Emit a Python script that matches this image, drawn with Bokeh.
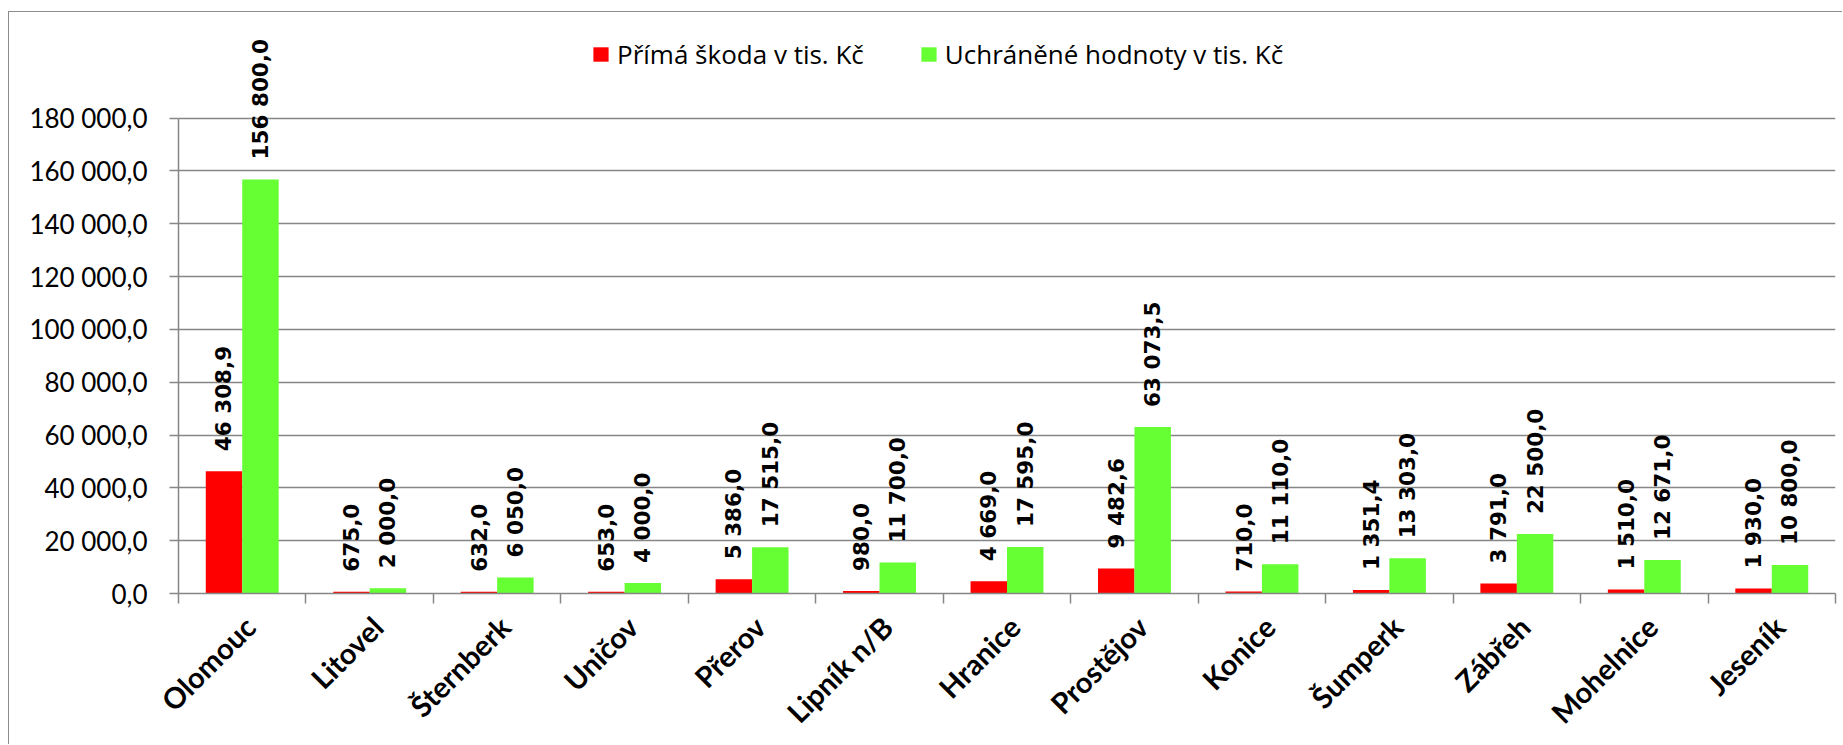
import math
from bokeh.plotting import figure
from bokeh.models import ColumnDataSource, Range1d, FixedTicker, LabelSet, Legend, LegendItem
from bokeh.core.properties import value
from bokeh.embed import file_html
from bokeh.resources import INLINE

categories = ["Olomouc", "Litovel", "Šternberk", "Uničov", "Přerov", "Lipník n/B",
              "Hranice", "Prostějov", "Konice", "Šumperk", "Zábřeh", "Mohelnice", "Jeseník"]
prima_skoda = [46308.9, 675.0, 632.0, 653.0, 5386.0, 980.0, 4669.0, 9482.6,
               710.0, 1351.4, 3791.0, 1510.0, 1930.0]
uchranene = [156800.0, 2000.0, 6050.0, 4000.0, 17515.0, 11700.0, 17595.0, 63073.5,
             11110.0, 13303.0, 22500.0, 12671.0, 10800.0]
y_ticks = [0, 20000, 40000, 60000, 80000, 100000, 120000, 140000, 160000, 180000]
series_names = ["Přímá škoda v tis. Kč", "Uchráněné hodnoty v tis. Kč"]

RED = "#ff0000"
GREEN = "#66ff33"
GRID = "#868686"
BAR_W = 0.286
Y_MAX = 180000

# layout (figure pixels)
FIG_W, FIG_H = 1834, 733
FRAME_L, FRAME_R = 169, 1826
FRAME_B = 583
Y_MAX_PX = 106                      # pixel row of the 180 000 gridline
y_end = Y_MAX * FRAME_B / (FRAME_B - Y_MAX_PX)


def fmt(v):
    return f"{v:,.1f}".replace(",", " ").replace(".", ",")


n = len(categories)
centers = [i + 0.5 for i in range(n)]
src = ColumnDataSource(dict(
    xr=[c - BAR_W / 2 for c in centers],
    xg=[c + BAR_W / 2 for c in centers],
    red=prima_skoda,
    green=uchranene,
    red_lbl=[fmt(v) for v in prima_skoda],
    green_lbl=[fmt(v) for v in uchranene],
))

p = figure(width=FIG_W, height=FIG_H,
           x_range=Range1d(0, n), y_range=Range1d(0, y_end),
           output_backend="svg", toolbar_location=None,
           min_border_left=FRAME_L, min_border_right=FIG_W - FRAME_R,
           min_border_top=0, min_border_bottom=FIG_H - FRAME_B)
p.outline_line_color = None
p.background_fill_color = "white"
p.border_fill_color = "white"
p.styles = {"margin-left": "8px", "margin-top": "11px",
            "border-left": "1px solid #8c8c8c", "border-top": "1px solid #8c8c8c"}

r_red = p.vbar(x="xr", top="red", bottom=0, width=BAR_W, source=src,
               fill_color=RED, line_color=None)
r_green = p.vbar(x="xg", top="green", bottom=0, width=BAR_W, source=src,
                 fill_color=GREEN, line_color=None)

for lbl, xcol, ycol in (("red_lbl", "xr", "red"), ("green_lbl", "xg", "green")):
    ls = LabelSet(x=xcol, y=ycol, text=lbl, source=src, angle=math.pi / 2,
                  text_align="left", text_baseline="middle", y_offset=20,
                  text_font=value("DejaVu Sans"), text_font_style="bold",
                  text_font_size="21.5px", text_color="black")
    p.add_layout(ls)

# y axis
p.yaxis.ticker = FixedTicker(ticks=y_ticks, minor_ticks=[])
p.yaxis.bounds = (0, Y_MAX)
p.yaxis.major_label_overrides = {t: fmt(t) for t in y_ticks}
p.yaxis.axis_line_color = GRID
p.yaxis.axis_line_width = 1.5
p.yaxis.major_tick_line_color = GRID
p.yaxis.major_tick_line_width = 1.5
p.yaxis.major_tick_out = 9
p.yaxis.major_tick_in = 0
p.yaxis.minor_tick_line_color = None
p.yaxis.major_label_standoff = 22
p.yaxis.major_label_text_font = "Lato"
p.yaxis.major_label_text_font_size = "26px"
p.yaxis.major_label_text_color = "black"

# x axis: labels at category centres (nudged), tick marks at category boundaries
LBL_SHIFT = 0.06
lbl_pos = [c + LBL_SHIFT for c in centers]
p.xaxis.ticker = FixedTicker(ticks=lbl_pos, minor_ticks=list(range(n + 1)))
p.xaxis.major_label_overrides = {c: name for c, name in zip(lbl_pos, categories)}
p.xaxis.major_label_orientation = math.pi / 4
p.xaxis.axis_line_color = GRID
p.xaxis.axis_line_width = 1.5
p.xaxis.major_tick_line_color = None
p.xaxis.minor_tick_line_color = GRID
p.xaxis.minor_tick_line_width = 1.5
p.xaxis.minor_tick_out = 10
p.xaxis.minor_tick_in = 0
p.xaxis.major_label_standoff = 18
p.xaxis.major_label_text_font = "Lato"
p.xaxis.major_label_text_font_style = "bold"
p.xaxis.major_label_text_font_size = "29px"
p.xaxis.major_label_text_color = "black"

# grid
p.xgrid.grid_line_color = None
p.ygrid.ticker = FixedTicker(ticks=y_ticks, minor_ticks=[])
p.ygrid.grid_line_color = GRID
p.ygrid.grid_line_width = 1.5

legend = Legend(items=[LegendItem(label=series_names[0], renderers=[r_red]),
                       LegendItem(label=series_names[1], renderers=[r_green])],
                location=(413, 521), orientation="horizontal",
                glyph_width=19, glyph_height=18, label_standoff=7, spacing=55,
                padding=0, margin=0, border_line_color=None,
                background_fill_alpha=0,
                label_text_font="Open Sans", label_text_font_size="26px",
                label_text_color="black")
p.add_layout(legend)

open("out.html", "w").write(file_html(p, INLINE))
